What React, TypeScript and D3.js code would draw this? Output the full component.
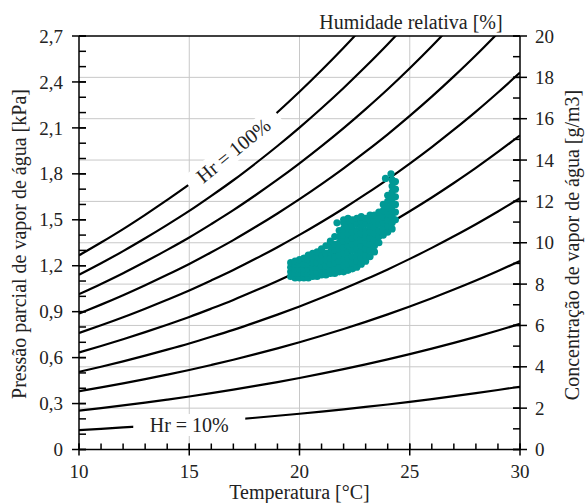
import React from "react";
import * as d3 from "d3";

// Saturation curve (100 %): water vapour concentration [g/m3] at each temperature [°C]
const temps = [10, 11, 12, 13, 14, 15, 16, 17, 18, 19, 20, 21, 22, 23, 24, 25, 26, 27, 28, 29, 30];
const satConc = [9.39, 10.01, 10.66, 11.35, 12.07, 12.82, 13.63, 14.47, 15.37, 16.31, 17.3, 18.34, 19.43, 20.58, 21.78, 23.05, 24.38, 25.78, 27.24, 28.78, 30.38];
const rhLevels = [10, 20, 30, 40, 50, 60, 70, 80, 90, 100];

const xTicks = [10, 15, 20, 25, 30];
const leftTicks = [0, 0.3, 0.6, 0.9, 1.2, 1.5, 1.8, 2.1, 2.4, 2.7];
const rightTicks = [0, 2, 4, 6, 8, 10, 12, 14, 16, 18, 20];

// Measured points: [temperature °C, partial pressure kPa]
const obsPoints: [number, number][] = [
  [19.6, 1.13], [19.6, 1.16], [19.6, 1.19], [19.6, 1.22],
  [19.8, 1.12], [19.8, 1.15], [19.8, 1.18], [19.8, 1.21], [19.8, 1.23],
  [20.0, 1.12], [20.0, 1.15], [20.0, 1.18], [20.0, 1.21], [20.0, 1.24],
  [20.2, 1.12], [20.2, 1.15], [20.2, 1.18], [20.2, 1.21], [20.2, 1.25],
  [20.4, 1.12], [20.4, 1.15], [20.4, 1.18], [20.4, 1.21], [20.4, 1.24], [20.4, 1.27],
  [20.6, 1.13], [20.6, 1.16], [20.6, 1.19], [20.6, 1.22], [20.6, 1.25], [20.6, 1.28],
  [20.8, 1.13], [20.8, 1.16], [20.8, 1.19], [20.8, 1.22], [20.8, 1.26], [20.8, 1.29],
  [21.0, 1.14], [21.0, 1.17], [21.0, 1.2], [21.0, 1.23], [21.0, 1.27], [21.0, 1.31],
  [21.2, 1.14], [21.2, 1.17], [21.2, 1.2], [21.2, 1.24], [21.2, 1.28], [21.2, 1.33],
  [21.4, 1.15], [21.4, 1.18], [21.4, 1.21], [21.4, 1.25], [21.4, 1.29], [21.4, 1.33], [21.4, 1.36],
  [21.6, 1.15], [21.6, 1.18], [21.6, 1.22], [21.6, 1.26], [21.6, 1.3], [21.6, 1.34], [21.6, 1.39],
  [21.8, 1.16], [21.8, 1.19], [21.8, 1.23], [21.8, 1.27], [21.8, 1.31], [21.8, 1.35], [21.8, 1.39], [21.8, 1.43], [21.7, 1.48],
  [22.0, 1.16], [22.0, 1.2], [22.0, 1.24], [22.0, 1.28], [22.0, 1.32], [22.0, 1.36], [22.0, 1.4], [22.0, 1.44], [22.0, 1.48], [22.0, 1.5],
  [22.2, 1.17], [22.2, 1.21], [22.2, 1.25], [22.2, 1.29], [22.2, 1.33], [22.2, 1.37], [22.2, 1.41], [22.2, 1.45], [22.2, 1.49], [22.2, 1.51],
  [22.4, 1.18], [22.4, 1.22], [22.4, 1.26], [22.4, 1.3], [22.4, 1.34], [22.4, 1.38], [22.4, 1.42], [22.4, 1.46], [22.4, 1.5],
  [22.6, 1.19], [22.6, 1.23], [22.6, 1.27], [22.6, 1.31], [22.6, 1.35], [22.6, 1.39], [22.6, 1.43], [22.6, 1.47], [22.6, 1.51],
  [22.8, 1.21], [22.8, 1.25], [22.8, 1.29], [22.8, 1.33], [22.8, 1.37], [22.8, 1.41], [22.8, 1.45], [22.8, 1.49], [22.8, 1.52],
  [23.0, 1.23], [23.0, 1.27], [23.0, 1.31], [23.0, 1.35], [23.0, 1.39], [23.0, 1.43], [23.0, 1.47], [23.0, 1.51],
  [23.2, 1.26], [23.2, 1.3], [23.2, 1.34], [23.2, 1.38], [23.2, 1.42], [23.2, 1.46], [23.2, 1.5], [23.2, 1.53],
  [23.4, 1.29], [23.4, 1.33], [23.4, 1.37], [23.4, 1.41], [23.4, 1.45], [23.4, 1.49], [23.4, 1.53],
  [23.6, 1.35], [23.6, 1.39], [23.6, 1.43], [23.6, 1.47], [23.6, 1.51], [23.6, 1.55],
  [23.8, 1.4], [23.8, 1.44], [23.8, 1.48], [23.8, 1.52], [23.8, 1.56], [23.8, 1.6],
  [24.0, 1.42], [24.0, 1.46], [24.0, 1.5], [24.0, 1.54], [24.0, 1.58], [24.0, 1.62], [24.0, 1.66],
  [24.2, 1.44], [24.2, 1.48], [24.2, 1.52], [24.2, 1.56], [24.2, 1.6], [24.2, 1.64], [24.2, 1.68], [24.2, 1.72], [24.2, 1.76], [24.15, 1.8],
  [24.35, 1.5], [24.35, 1.55], [24.35, 1.6], [24.35, 1.65], [24.35, 1.7], [24.35, 1.75],
  [23.9, 1.77],
];

const W = 587;
const H = 503;
const X0 = 79;
const X1 = 520;
const Y0 = 449.5;
const Y1 = 36;
const FONT = "'Liberation Serif', 'Times New Roman', serif";
const TEAL = "#009995";

export default function App() {
  const x = d3.scaleLinear().domain([10, 30]).range([X0, X1]);
  const yL = d3.scaleLinear().domain([0, 2.7]).range([Y0, Y1]);
  const yR = d3.scaleLinear().domain([0, 20]).range([Y0, Y1]);

  const line = d3
    .line<[number, number]>()
    .x((d) => x(d[0]))
    .y((d) => yR(d[1]))
    .curve(d3.curveMonotoneX);

  const curves = rhLevels.map((rh) => ({
    rh,
    pts: temps.map((t, i) => [t, (rh / 100) * satConc[i]] as [number, number]),
  }));

  const satAt = (t: number) => satConc[temps.indexOf(t)];

  // label 100 %
  const l100T = 17;
  const l100x = x(l100T);
  const l100y = yR(satAt(l100T));
  const dx = x(18) - x(16);
  const dy = yR(satAt(18)) - yR(satAt(16));
  const ang100 = (Math.atan2(dy, dx) * 180) / Math.PI;

  const l10T = 15;
  const l10x = x(l10T);
  const l10y = yR(0.1 * satAt(l10T));

  const xMinor = d3.range(10, 30.001, 1);
  const leftMinor = d3.range(0, 2.7001, 0.1);
  const rightMinor = d3.range(0, 20.001, 1);
  const hGrid = [2, 4, 6, 8, 10, 12, 14, 16, 18];
  const vGrid = [15, 20, 25];

  const fmtL = (v: number) => (v === 0 ? "0" : v.toFixed(1).replace(".", ","));

  return (
    <svg
      width={W}
      height={H}
      style={{ position: "absolute", left: 0, top: 0, background: "#fff" }}
      fontFamily={FONT}
    >
      <defs>
        <clipPath id="plot">
          <rect x={X0} y={Y1} width={X1 - X0} height={Y0 - Y1} />
        </clipPath>
      </defs>
      <rect x={0} y={0} width={W} height={H} fill="#fff" />
      {/* grid */}
      <g stroke="#c8c8c8" strokeWidth={1}>
        {hGrid.map((g) => (
          <line key={"h" + g} x1={X0} x2={X1} y1={yR(g)} y2={yR(g)} />
        ))}
        {vGrid.map((g) => (
          <line key={"v" + g} x1={x(g)} x2={x(g)} y1={Y1} y2={Y0} />
        ))}
      </g>
      {/* RH curves */}
      <g clipPath="url(#plot)" fill="none" stroke="#000" strokeWidth={2.2}>
        {curves.map((c) => (
          <path key={c.rh} d={line(c.pts) || ""} />
        ))}
      </g>
      {/* labels */}
      <g transform={`translate(${l100x},${l100y}) rotate(${ang100})`}>
        <rect x={-57} y={-11} width={114} height={22} fill="#fff" />
        <text x={0} y={0} dy="0.35em" textAnchor="middle" fontSize={20} fill="#222">
          Hr = 100%
        </text>
      </g>
      <g transform={`translate(${l10x},${l10y + 2})`}>
        <rect x={-56} y={-11} width={112} height={22} fill="#fff" />
        <text x={0} y={0} dy="0.35em" textAnchor="middle" fontSize={20} fill="#222">
          Hr = 10%
        </text>
      </g>
      {/* observations */}
      <g fill={TEAL} clipPath="url(#plot)">
        {obsPoints.map((p, i) => (
          <circle key={i} cx={x(p[0])} cy={yL(p[1])} r={3.6} />
        ))}
      </g>
      {/* frame / axes */}
      <g stroke="#000" strokeWidth={1.5} fill="none">
        <line x1={X0} x2={X1} y1={Y1} y2={Y1} />
        <line x1={X0} x2={X0} y1={Y1} y2={Y0} />
        <line x1={X1} x2={X1} y1={Y1} y2={Y0} />
        <line x1={X0} x2={X1} y1={Y0} y2={Y0} />
        {xMinor.map((t) => (
          <line key={"xm" + t} x1={x(t)} x2={x(t)} y1={Y0} y2={Y0 - 6} />
        ))}
        {xTicks.map((t) => (
          <line key={"xM" + t} x1={x(t)} x2={x(t)} y1={Y0 - 6} y2={Y0 + 6} />
        ))}
        {leftMinor.map((t, i) => (
          <line key={"lm" + i} x1={X0} x2={X0 + 7} y1={yL(t)} y2={yL(t)} />
        ))}
        {leftTicks.map((t) => (
          <line key={"lM" + t} x1={X0 - 7} x2={X0 + 7} y1={yL(t)} y2={yL(t)} />
        ))}
        {rightMinor.map((t) => (
          <line key={"rm" + t} x1={X1 - 7} x2={X1} y1={yR(t)} y2={yR(t)} />
        ))}
        {rightTicks.map((t) => (
          <line key={"rM" + t} x1={X1 - 7} x2={X1 + 7} y1={yR(t)} y2={yR(t)} />
        ))}
      </g>
      {/* tick labels */}
      <g fontSize={19} fill="#222">
        {xTicks.map((t) => (
          <text key={"xt" + t} x={x(t)} y={478} textAnchor="middle">
            {t}
          </text>
        ))}
        {leftTicks.map((t) => (
          <text key={"lt" + t} x={63} y={yL(t)} dy="0.35em" textAnchor="end">
            {fmtL(t)}
          </text>
        ))}
        {rightTicks.map((t) => (
          <text key={"rt" + t} x={535} y={yR(t)} dy="0.35em" textAnchor="start">
            {t}
          </text>
        ))}
      </g>
      {/* axis titles */}
      <g fontSize={20} fill="#222">
        <text x={x(20)} y={499} textAnchor="middle">
          Temperatura [°C]
        </text>
        <text x={411} y={29} textAnchor="middle">
          Humidade relativa [%]
        </text>
        <text transform={`translate(26,${244}) rotate(-90)`} textAnchor="middle">
          Pressão parcial de vapor de água [kPa]
        </text>
        <text transform={`translate(579,${245}) rotate(-90)`} textAnchor="middle">
          Concentração de vapor de água [g/m3]
        </text>
      </g>
    </svg>
  );
}
